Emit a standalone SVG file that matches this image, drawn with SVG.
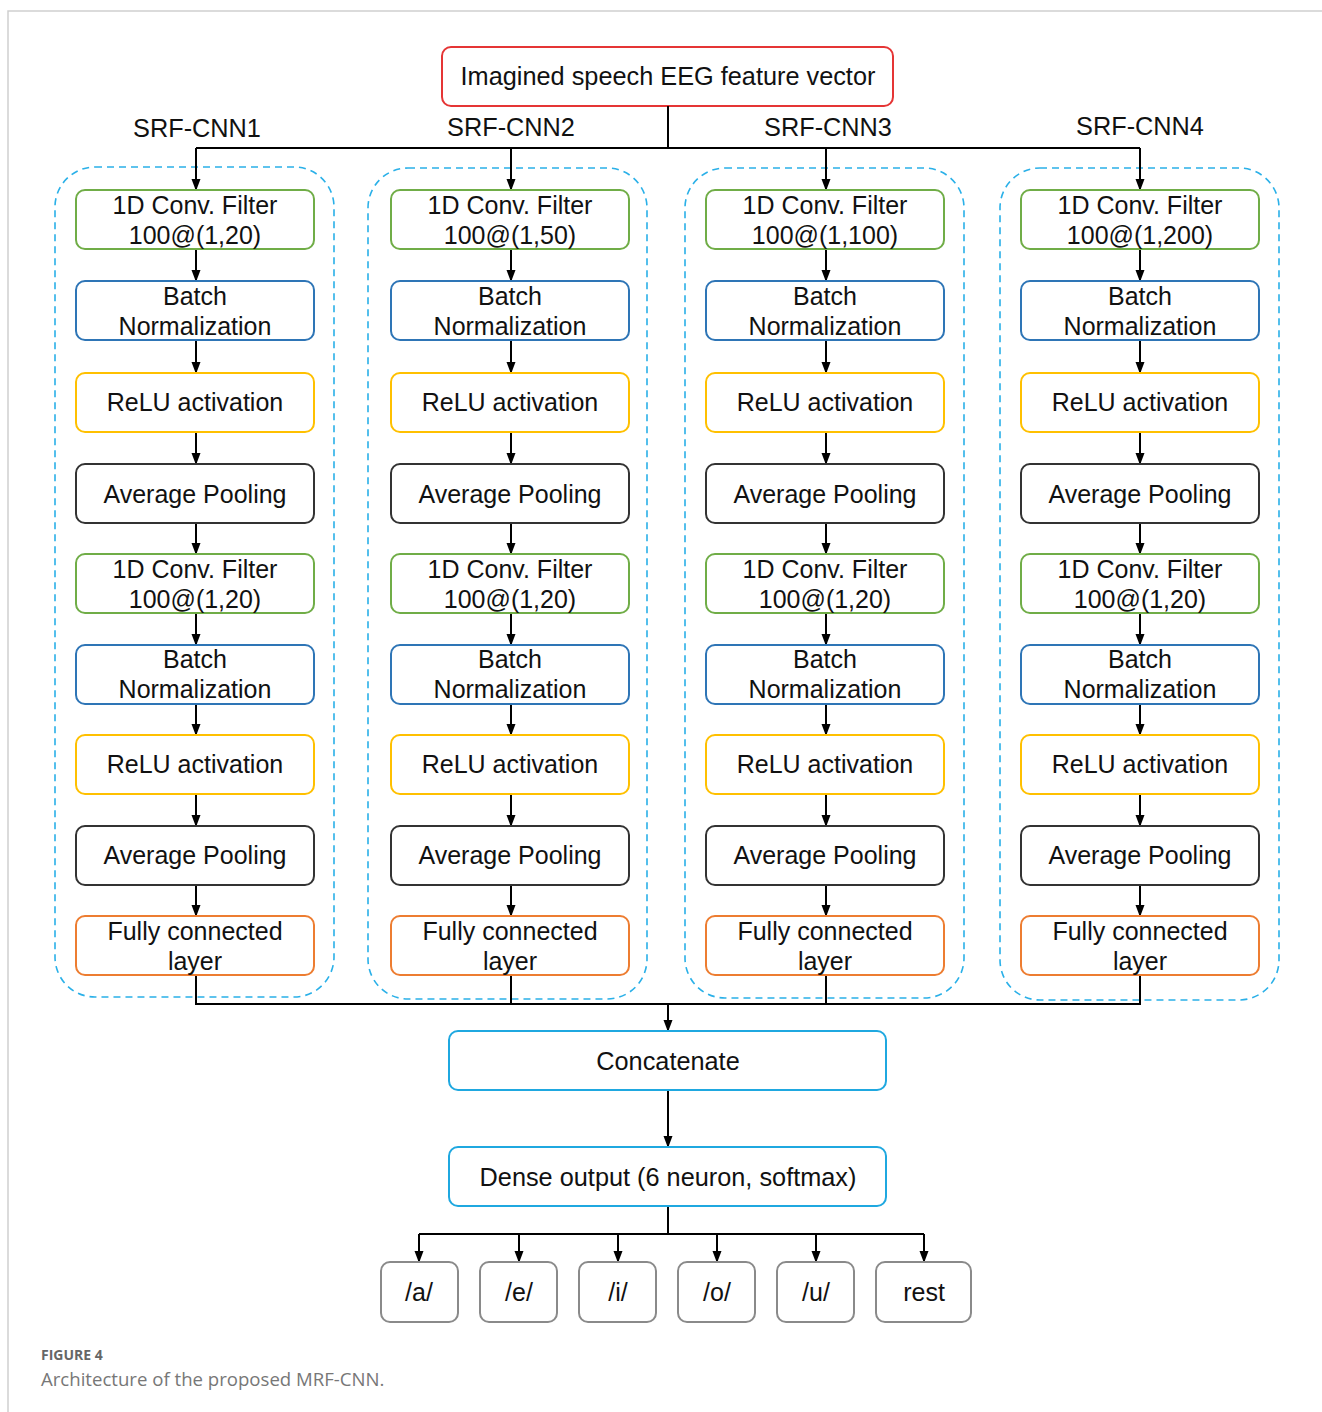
<svg xmlns="http://www.w3.org/2000/svg" width="1322" height="1412" viewBox="0 0 1322 1412">
<defs>
<marker id="ah" markerUnits="userSpaceOnUse" markerWidth="12" markerHeight="12" viewBox="0 0 12 12" refX="11" refY="6" orient="auto">
<path d="M0,1.5 L12,6 L0,10.5 Z" fill="#000"/>
</marker>
</defs>
<style>
text{font-family:"Liberation Sans",Arial,sans-serif;font-size:25px;fill:#111;text-anchor:middle}
.box{fill:#fff;stroke-width:2}
.g{stroke:#70ad47}.b{stroke:#2e75b6}.y{stroke:#ffc000}.k{stroke:#333}.o{stroke:#ed7d31}.c{stroke:#1fa8e0}.gr{stroke:#8a8a8a}
.dash{fill:none;stroke:#2ab0e8;stroke-width:1.6;stroke-dasharray:7 5}
.ln{fill:none;stroke:#000;stroke-width:2}
.arr{fill:none;stroke:#000;stroke-width:2;marker-end:url(#ah)}
.lbl{font-size:25.3px}
.cap1{font-family:"Open Sans","Liberation Sans",sans-serif;font-size:14px;font-weight:bold;fill:#666;text-anchor:start}
.cap2{font-family:"Open Sans","Liberation Sans",sans-serif;font-size:18.6px;fill:#777;text-anchor:start}
</style>
<rect width="1322" height="1412" fill="#fff"/>
<path d="M8,1412 L8,11 L1322,11" fill="none" stroke="#cfcfcf" stroke-width="1.5"/>

<g id="input">
<rect class="box" x="442" y="47" width="451" height="59" rx="9" stroke="#e53535"/>
<text x="668" y="85" class="lbl">Imagined speech EEG feature vector</text>
</g>

<g id="labels">
<text x="197" y="137" class="lbl">SRF-CNN1</text>
<text x="511" y="136" class="lbl">SRF-CNN2</text>
<text x="828" y="136" class="lbl">SRF-CNN3</text>
<text x="1140" y="135" class="lbl">SRF-CNN4</text>
</g>

<g id="containers">
<rect class="dash" x="55" y="167" width="279" height="830" rx="40"/>
<rect class="dash" x="368" y="168" width="279" height="831" rx="40"/>
<rect class="dash" x="685" y="168" width="279" height="830" rx="40"/>
<rect class="dash" x="1000" y="168" width="279" height="832" rx="40"/>
</g>

<g id="connectors">
<path class="ln" d="M668,106 V148 M196,148 H1140"/>
<path class="arr" d="M196,148 V190"/>
<path class="arr" d="M511,148 V190"/>
<path class="arr" d="M826,148 V190"/>
<path class="arr" d="M1140,148 V190"/>
<path class="arr" d="M196,249 V281"/><path class="arr" d="M196,340 V373"/><path class="arr" d="M196,432 V464"/><path class="arr" d="M196,523 V554"/><path class="arr" d="M196,613 V645"/><path class="arr" d="M196,704 V735"/><path class="arr" d="M196,794 V826"/><path class="arr" d="M196,885 V916"/>
<path class="arr" d="M511,249 V281"/><path class="arr" d="M511,340 V373"/><path class="arr" d="M511,432 V464"/><path class="arr" d="M511,523 V554"/><path class="arr" d="M511,613 V645"/><path class="arr" d="M511,704 V735"/><path class="arr" d="M511,794 V826"/><path class="arr" d="M511,885 V916"/>
<path class="arr" d="M826,249 V281"/><path class="arr" d="M826,340 V373"/><path class="arr" d="M826,432 V464"/><path class="arr" d="M826,523 V554"/><path class="arr" d="M826,613 V645"/><path class="arr" d="M826,704 V735"/><path class="arr" d="M826,794 V826"/><path class="arr" d="M826,885 V916"/>
<path class="arr" d="M1140,249 V281"/><path class="arr" d="M1140,340 V373"/><path class="arr" d="M1140,432 V464"/><path class="arr" d="M1140,523 V554"/><path class="arr" d="M1140,613 V645"/><path class="arr" d="M1140,704 V735"/><path class="arr" d="M1140,794 V826"/><path class="arr" d="M1140,885 V916"/>
<path class="ln" d="M196,975 V1004 H1140 V975 M511,975 V1004 M826,975 V1004"/>
<path class="arr" d="M668,1004 V1031"/>
<path class="arr" d="M668,1090 V1147"/>
<path class="ln" d="M668,1206 V1234 M419,1234 H924"/>
<path class="arr" d="M419,1234 V1262"/>
<path class="arr" d="M519,1234 V1262"/>
<path class="arr" d="M618,1234 V1262"/>
<path class="arr" d="M717,1234 V1262"/>
<path class="arr" d="M816,1234 V1262"/>
<path class="arr" d="M924,1234 V1262"/>
</g>

<g id="c1-conv1"><rect class="box g" x="76" y="190" width="238" height="59" rx="9"/><text x="195" y="214">1D Conv. Filter</text><text x="195" y="244">100@(1,20)</text></g>
<g id="c1-bn1"><rect class="box b" x="76" y="281" width="238" height="59" rx="9"/><text x="195" y="305">Batch</text><text x="195" y="335">Normalization</text></g>
<g id="c1-relu1"><rect class="box y" x="76" y="373" width="238" height="59" rx="9"/><text x="195" y="411">ReLU activation</text></g>
<g id="c1-pool1"><rect class="box k" x="76" y="464" width="238" height="59" rx="9"/><text x="195" y="503">Average Pooling</text></g>
<g id="c1-conv2"><rect class="box g" x="76" y="554" width="238" height="59" rx="9"/><text x="195" y="578">1D Conv. Filter</text><text x="195" y="608">100@(1,20)</text></g>
<g id="c1-bn2"><rect class="box b" x="76" y="645" width="238" height="59" rx="9"/><text x="195" y="668">Batch</text><text x="195" y="698">Normalization</text></g>
<g id="c1-relu2"><rect class="box y" x="76" y="735" width="238" height="59" rx="9"/><text x="195" y="773">ReLU activation</text></g>
<g id="c1-pool2"><rect class="box k" x="76" y="826" width="238" height="59" rx="9"/><text x="195" y="864">Average Pooling</text></g>
<g id="c1-fc"><rect class="box o" x="76" y="916" width="238" height="59" rx="9"/><text x="195" y="940">Fully connected</text><text x="195" y="970">layer</text></g>

<g id="c2-conv1"><rect class="box g" x="391" y="190" width="238" height="59" rx="9"/><text x="510" y="214">1D Conv. Filter</text><text x="510" y="244">100@(1,50)</text></g>
<g id="c2-bn1"><rect class="box b" x="391" y="281" width="238" height="59" rx="9"/><text x="510" y="305">Batch</text><text x="510" y="335">Normalization</text></g>
<g id="c2-relu1"><rect class="box y" x="391" y="373" width="238" height="59" rx="9"/><text x="510" y="411">ReLU activation</text></g>
<g id="c2-pool1"><rect class="box k" x="391" y="464" width="238" height="59" rx="9"/><text x="510" y="503">Average Pooling</text></g>
<g id="c2-conv2"><rect class="box g" x="391" y="554" width="238" height="59" rx="9"/><text x="510" y="578">1D Conv. Filter</text><text x="510" y="608">100@(1,20)</text></g>
<g id="c2-bn2"><rect class="box b" x="391" y="645" width="238" height="59" rx="9"/><text x="510" y="668">Batch</text><text x="510" y="698">Normalization</text></g>
<g id="c2-relu2"><rect class="box y" x="391" y="735" width="238" height="59" rx="9"/><text x="510" y="773">ReLU activation</text></g>
<g id="c2-pool2"><rect class="box k" x="391" y="826" width="238" height="59" rx="9"/><text x="510" y="864">Average Pooling</text></g>
<g id="c2-fc"><rect class="box o" x="391" y="916" width="238" height="59" rx="9"/><text x="510" y="940">Fully connected</text><text x="510" y="970">layer</text></g>

<g id="c3-conv1"><rect class="box g" x="706" y="190" width="238" height="59" rx="9"/><text x="825" y="214">1D Conv. Filter</text><text x="825" y="244">100@(1,100)</text></g>
<g id="c3-bn1"><rect class="box b" x="706" y="281" width="238" height="59" rx="9"/><text x="825" y="305">Batch</text><text x="825" y="335">Normalization</text></g>
<g id="c3-relu1"><rect class="box y" x="706" y="373" width="238" height="59" rx="9"/><text x="825" y="411">ReLU activation</text></g>
<g id="c3-pool1"><rect class="box k" x="706" y="464" width="238" height="59" rx="9"/><text x="825" y="503">Average Pooling</text></g>
<g id="c3-conv2"><rect class="box g" x="706" y="554" width="238" height="59" rx="9"/><text x="825" y="578">1D Conv. Filter</text><text x="825" y="608">100@(1,20)</text></g>
<g id="c3-bn2"><rect class="box b" x="706" y="645" width="238" height="59" rx="9"/><text x="825" y="668">Batch</text><text x="825" y="698">Normalization</text></g>
<g id="c3-relu2"><rect class="box y" x="706" y="735" width="238" height="59" rx="9"/><text x="825" y="773">ReLU activation</text></g>
<g id="c3-pool2"><rect class="box k" x="706" y="826" width="238" height="59" rx="9"/><text x="825" y="864">Average Pooling</text></g>
<g id="c3-fc"><rect class="box o" x="706" y="916" width="238" height="59" rx="9"/><text x="825" y="940">Fully connected</text><text x="825" y="970">layer</text></g>

<g id="c4-conv1"><rect class="box g" x="1021" y="190" width="238" height="59" rx="9"/><text x="1140" y="214">1D Conv. Filter</text><text x="1140" y="244">100@(1,200)</text></g>
<g id="c4-bn1"><rect class="box b" x="1021" y="281" width="238" height="59" rx="9"/><text x="1140" y="305">Batch</text><text x="1140" y="335">Normalization</text></g>
<g id="c4-relu1"><rect class="box y" x="1021" y="373" width="238" height="59" rx="9"/><text x="1140" y="411">ReLU activation</text></g>
<g id="c4-pool1"><rect class="box k" x="1021" y="464" width="238" height="59" rx="9"/><text x="1140" y="503">Average Pooling</text></g>
<g id="c4-conv2"><rect class="box g" x="1021" y="554" width="238" height="59" rx="9"/><text x="1140" y="578">1D Conv. Filter</text><text x="1140" y="608">100@(1,20)</text></g>
<g id="c4-bn2"><rect class="box b" x="1021" y="645" width="238" height="59" rx="9"/><text x="1140" y="668">Batch</text><text x="1140" y="698">Normalization</text></g>
<g id="c4-relu2"><rect class="box y" x="1021" y="735" width="238" height="59" rx="9"/><text x="1140" y="773">ReLU activation</text></g>
<g id="c4-pool2"><rect class="box k" x="1021" y="826" width="238" height="59" rx="9"/><text x="1140" y="864">Average Pooling</text></g>
<g id="c4-fc"><rect class="box o" x="1021" y="916" width="238" height="59" rx="9"/><text x="1140" y="940">Fully connected</text><text x="1140" y="970">layer</text></g>

<g id="concat"><rect class="box c" x="449" y="1031" width="437" height="59" rx="9"/><text x="668" y="1070" class="lbl">Concatenate</text></g>
<g id="dense"><rect class="box c" x="449" y="1147" width="437" height="59" rx="9"/><text x="668" y="1186" class="lbl">Dense output (6 neuron, softmax)</text></g>

<g id="out-a"><rect class="box gr" x="381" y="1262" width="77" height="60" rx="9"/><text x="419" y="1301">/a/</text></g>
<g id="out-e"><rect class="box gr" x="480" y="1262" width="77" height="60" rx="9"/><text x="519" y="1301">/e/</text></g>
<g id="out-i"><rect class="box gr" x="579" y="1262" width="77" height="60" rx="9"/><text x="618" y="1301">/i/</text></g>
<g id="out-o"><rect class="box gr" x="678" y="1262" width="77" height="60" rx="9"/><text x="717" y="1301">/o/</text></g>
<g id="out-u"><rect class="box gr" x="777" y="1262" width="77" height="60" rx="9"/><text x="816" y="1301">/u/</text></g>
<g id="out-rest"><rect class="box gr" x="876" y="1262" width="95" height="60" rx="9"/><text x="924" y="1301">rest</text></g>

<g id="caption">
<text x="41" y="1360" class="cap1">FIGURE 4</text>
<text x="41" y="1386" class="cap2">Architecture of the proposed MRF-CNN.</text>
</g>
</svg>
